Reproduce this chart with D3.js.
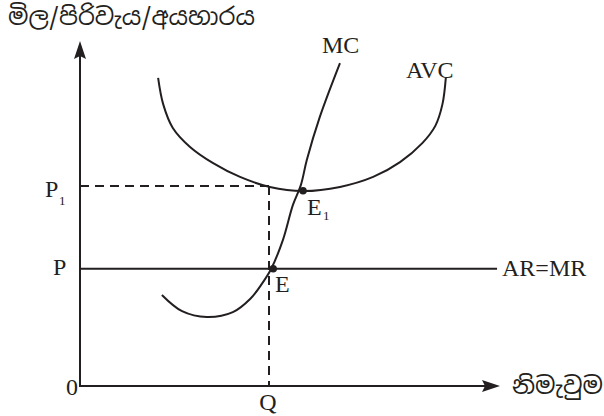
<!DOCTYPE html>
<html>
<head>
<meta charset="utf-8">
<script src="https://cdn.jsdelivr.net/npm/d3@7"></script>
<style>
  body { margin: 0; background: #fff; }
  text { font-family: "Liberation Serif", "Times New Roman", serif; fill: #231f20; }
  .si { font-family: "Noto Sans Sinhala", "Iskoola Pota", "Noto Sans", sans-serif; }
</style>
</head>
<body>
<svg width="604" height="416"></svg>
<script>
// quantity (x) and price (y) on a 0..100 scale
var mcX = [19.5, 24.3, 30.2, 36.4, 40.5, 43.3, 45.5, 48.3, 50.7, 52.6, 54, 57.1, 61.9];
var mcY = [26.4, 21.7, 20, 21.4, 25.2, 29.6, 33.9, 42.3, 52.5, 58.3, 65.5, 78, 93.6];

var avcX = [18.6, 19.8, 22.1, 26.2, 31.7, 38.1, 45.2, 53.1, 61.9, 69.8, 76.2, 81.5, 84.6, 86.3, 87.1];
var avcY = [89.3, 81.7, 74.8, 69.3, 64.6, 60.6, 57.7, 56.5, 57.7, 60.6, 64.9, 70.4, 75.4, 81.7, 89.3];

var priceP = 34;     // AR = MR
var priceP1 = 58;
var qtyQ = 45;
var lineEnd = 99.3;

var pointE = { x: 46, y: 34 };
var pointE1 = { x: 53.1, y: 56.6 };

var yTitle = 'මිල/පිරිවැය/අයහාරය';
var xTitle = 'නිමැවුම';

var svg = d3.select('svg');

var xScale = d3.scaleLinear().domain([0, 100]).range([80, 500]);
var yScale = d3.scaleLinear().domain([0, 100]).range([386, 41]);

var ink = '#231f20';

// axes
svg.append('line')
    .attr('x1', xScale(0)).attr('y1', yScale(0) + 1)
    .attr('x2', xScale(0)).attr('y2', yScale(100) + 10)
    .attr('stroke', ink).attr('stroke-width', 2);
svg.append('line')
    .attr('x1', xScale(0) - 1).attr('y1', yScale(0))
    .attr('x2', xScale(100) - 10).attr('y2', yScale(0))
    .attr('stroke', ink).attr('stroke-width', 2);

// arrow heads
var ax = xScale(0), ay = yScale(100);
svg.append('path')
    .attr('d', `M${ax},${ay} L${ax + 6},${ay + 18} L${ax},${ay + 15} L${ax - 6},${ay + 18} Z`)
    .attr('fill', ink);
var bx = xScale(100), by = yScale(0);
svg.append('path')
    .attr('d', `M${bx},${by} L${bx - 18},${by - 6} L${bx - 15},${by} L${bx - 18},${by + 6} Z`)
    .attr('fill', ink);

// dashed guides
svg.append('line')
    .attr('x1', xScale(0)).attr('y1', yScale(priceP1))
    .attr('x2', xScale(qtyQ)).attr('y2', yScale(priceP1))
    .attr('stroke', ink).attr('stroke-width', 2)
    .attr('stroke-dasharray', '9,6');
svg.append('line')
    .attr('x1', xScale(qtyQ)).attr('y1', yScale(priceP1))
    .attr('x2', xScale(qtyQ)).attr('y2', yScale(0))
    .attr('stroke', ink).attr('stroke-width', 2)
    .attr('stroke-dasharray', '9,6');

// AR = MR
svg.append('line')
    .attr('x1', xScale(0)).attr('y1', yScale(priceP))
    .attr('x2', xScale(lineEnd)).attr('y2', yScale(priceP))
    .attr('stroke', ink).attr('stroke-width', 2);

// curves
var line = d3.line()
    .x(d => xScale(d[0]))
    .y(d => yScale(d[1]))
    .curve(d3.curveCatmullRom.alpha(0.5));

svg.append('path')
    .datum(d3.zip(avcX, avcY))
    .attr('d', line)
    .attr('fill', 'none').attr('stroke', ink).attr('stroke-width', 2);

svg.append('path')
    .datum(d3.zip(mcX, mcY))
    .attr('d', line)
    .attr('fill', 'none').attr('stroke', ink).attr('stroke-width', 2);

// equilibrium points
svg.selectAll('.dot')
    .data([pointE, pointE1])
    .enter()
    .append('circle')
    .attr('class', 'dot')
    .attr('cx', d => xScale(d.x))
    .attr('cy', d => yScale(d.y))
    .attr('r', 3.8)
    .attr('fill', ink);

// labels
function label(x, y, txt, size, anchor) {
    return svg.append('text')
        .attr('x', x).attr('y', y)
        .attr('font-size', size)
        .attr('text-anchor', anchor || 'start')
        .text(txt);
}

label(322, 53, 'MC', 24);
label(406, 78, 'AVC', 24);
label(502, 276, 'AR=MR', 24);
label(53, 275, 'P', 24);
label(45, 197, 'P', 24);
label(59, 205, '1', 13);
label(275, 292, 'E', 24);
label(307, 215, 'E', 24);
label(323, 220, '1', 13);
label(72, 395, '0', 24, 'middle');
label(268, 410, 'Q', 24, 'middle');

svg.append('text')
    .attr('class', 'si')
    .attr('x', 8).attr('y', 25)
    .attr('font-size', 24)
    .text(yTitle);
svg.append('text')
    .attr('class', 'si')
    .attr('x', 512).attr('y', 394)
    .attr('font-size', 24)
    .text(xTitle);
</script>
</body>
</html>
